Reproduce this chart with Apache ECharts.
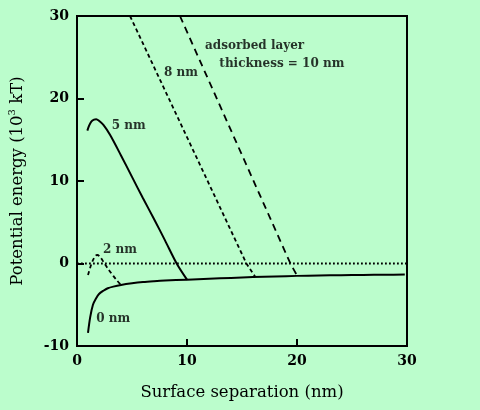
<!DOCTYPE html>
<html><head><meta charset="utf-8">
<script src="https://cdn.jsdelivr.net/npm/echarts/dist/echarts.min.js"></script>
<style>html,body{margin:0;padding:0;background:#bbfdcc}#c{width:480px;height:410px}</style>
</head><body><div id="c"></div>
<script>
// Axis ticks
const xTicks = [0, 10, 20, 30];
const yTicks = [-10, 0, 10, 20, 30];

// Series: adsorbed layer thickness 0 nm (solid)
const x0nm = [1.0, 1.2, 1.45, 1.7, 2.0, 2.4, 2.8, 3.3, 4, 5, 6, 7, 8, 10, 12, 14, 16, 18, 20, 22, 24, 26, 28, 29.8];
const y0nm = [-8.4, -6.5, -5.0, -4.3, -3.7, -3.3, -3.0, -2.8, -2.6, -2.4, -2.25, -2.15, -2.07, -1.96, -1.85, -1.75, -1.65, -1.57, -1.5, -1.45, -1.41, -1.38, -1.36, -1.34];
// 2 nm (dashed)
const x2nm = [1.0, 1.2, 1.45, 1.7, 1.85, 2.1, 2.5, 2.9, 3.3, 3.6, 3.97];
const y2nm = [-1.4, -0.5, 0.4, 0.95, 1.03, 0.8, 0.0, -0.8, -1.5, -2.0, -2.55];
// 5 nm (solid)
const x5nm = [0.94, 1.1, 1.3, 1.55, 1.75, 2.0, 2.4, 3.0, 4, 5, 6, 7, 8, 9.06, 10];
const y5nm = [16.1, 16.7, 17.2, 17.45, 17.5, 17.3, 16.8, 15.6, 13.1, 10.5, 7.9, 5.4, 2.8, 0, -1.96];
// 8 nm (dashed)
const x8nm = [4.82, 15.4, 16.2];
const y8nm = [30, 0, -1.6];
// 10 nm (long dashes)
const x10nm = [9.36, 19.4, 20.0];
const y10nm = [30, 0, -1.45];
// zero reference line
const xZero = [0, 30];
const yZero = [0, 0];

// Annotations
const labelText = ['adsorbed layer', 'thickness = 10 nm', '8 nm', '5 nm', '2 nm', '0 nm'];
const labelX = [11.64, 12.94, 7.91, 3.15, 2.36, 1.75];
const labelY = [26.36, 24.15, 23.13, 16.7, 1.64, -6.76];

const zip = (xs, ys) => xs.map((x, i) => [x, ys[i]]);
const SERIF = 'DejaVu Serif';

const chart = echarts.init(document.getElementById('c'), null, {renderer: 'canvas'});
const lineBase = {type: 'line', showSymbol: false, symbol: 'none', silent: true, z: 3};
chart.setOption({
  animation: false,
  backgroundColor: '#bbfdcc',
  grid: {left: 77, right: 73, top: 16, bottom: 64, containLabel: false, outerBoundsMode: 'none',
    show: true, borderColor: '#000', borderWidth: 2, backgroundColor: 'transparent'},
  xAxis: {
    type: 'value', min: xTicks[0], max: xTicks[xTicks.length - 1], interval: 10,
    name: 'Surface separation (nm)', nameLocation: 'middle', nameGap: 38,
    nameTextStyle: {fontFamily: SERIF, fontSize: 16.5, color: '#000'},
    axisLine: {show: true, onZero: false, lineStyle: {color: '#000', width: 2}},
    axisTick: {show: true, inside: true, length: 7, lineStyle: {color: '#000', width: 2}},
    axisLabel: {fontFamily: SERIF, fontWeight: 'bold', fontSize: 14, color: '#000', margin: 8},
    splitLine: {show: false}
  },
  yAxis: {
    type: 'value', min: yTicks[0], max: yTicks[yTicks.length - 1], interval: 10,
    name: '{a|Potential energy (10}{s|3}{a| kT)}', nameLocation: 'middle', nameGap: 48,
    nameTextStyle: {fontFamily: SERIF, fontSize: 16.5, color: '#000',
      rich: {a: {fontFamily: SERIF, fontSize: 16.5, color: '#000', lineHeight: 22},
             s: {fontFamily: SERIF, fontSize: 10, color: '#000', lineHeight: 12, verticalAlign: 'top'}}},
    axisLine: {show: true, onZero: false, lineStyle: {color: '#000', width: 2}},
    axisTick: {show: true, inside: true, length: 7, lineStyle: {color: '#000', width: 2}},
    axisLabel: {fontFamily: SERIF, fontWeight: 'bold', fontSize: 14, color: '#000', margin: 8},
    splitLine: {show: false}
  },
  series: [
    Object.assign({}, lineBase, {name: 'zero', data: zip(xZero, yZero), lineStyle: {color: '#000', width: 1.8, type: [1.8, 2.2]}}),
    Object.assign({}, lineBase, {name: '0 nm', data: zip(x0nm, y0nm), smooth: 0.3, lineStyle: {color: '#000', width: 2}}),
    Object.assign({}, lineBase, {name: '2 nm', data: zip(x2nm, y2nm), smooth: 0.3, lineStyle: {color: '#000', width: 1.8, type: [4, 3]}}),
    Object.assign({}, lineBase, {name: '5 nm', data: zip(x5nm, y5nm), smooth: 0.3, lineStyle: {color: '#000', width: 2}}),
    Object.assign({}, lineBase, {name: '8 nm', data: zip(x8nm, y8nm), lineStyle: {color: '#000', width: 1.8, type: [4, 3]}}),
    Object.assign({}, lineBase, {name: '10 nm', data: zip(x10nm, y10nm), lineStyle: {color: '#000', width: 1.8, type: [7, 5]}}),
    {
      type: 'scatter', silent: true, symbolSize: 0, z: 5,
      data: labelText.map((t, i) => ({name: t, value: [labelX[i], labelY[i]]})),
      label: {show: true, position: 'right', distance: 0, formatter: '{b}',
        fontFamily: SERIF, fontWeight: 'bold', fontSize: 12, color: '#000'}
    }
  ]
});
</script>
</body></html>
